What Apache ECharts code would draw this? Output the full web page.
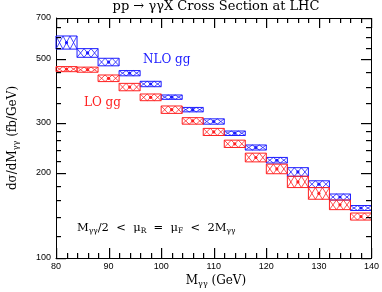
<!DOCTYPE html>
<html><head><meta charset="utf-8">
<script src="https://cdn.jsdelivr.net/npm/echarts@6/dist/echarts.min.js"></script>
<style>html,body{margin:0;padding:0;background:#fff}#c{width:382px;height:292px}</style>
</head><body><div id="c"></div>
<script>
// Bin lower edges (GeV), bin width 4 GeV
const binStart = [80,84,88,92,96,100,104,108,112,116,120,124,128,132,136];
const binWidth = 4;
// NLO gg band (fb/GeV)
const nloHigh = [605,546,505,457,419,375,339,309,280,250,226,208,187,168,153];
const nloLow  = [544,509,475,438,401,362,327,296,270,240,216,194,177,160,147];
// LO gg band (fb/GeV)
const loHigh  = [472,470,441,412,378,343,312,286,260,234,214,194,177,160,144];
const loLow   = [453,451,418,388,358,323,296,270,245,218,198,177,161,148,136];
// axis ticks
const xTickLabels = [80,90,100,110,120,130,140];
const xMinorTicks = [82,84,86,88,92,94,96,98,102,104,106,108,112,114,116,118,122,124,126,128,132,134,136,138];
const yTickLabels = [100,200,300,500,700];
const yMinorTicks = [120,140,160,180,220,240,260,280,350,400,450,550,600,650];

const BLUE = '#1a1aff', RED = '#ff2020';
function bandData(lo, hi){ return binStart.map((s,i)=>[s, s+binWidth, lo[i], hi[i]]); }
function makeRender(color){
  return function(params, api){
    const x0=api.value(0), x1=api.value(1), lo=api.value(2), hi=api.value(3);
    const p0=api.coord([x0,hi]), p1=api.coord([x1,lo]);
    const x=p0[0], y=p0[1], w=p1[0]-p0[0], h=p1[1]-p0[1];
    const n=Math.max(1,Math.round(w/7)), cw=w/n;
    const ch=[{type:'rect',shape:{x:x,y:y,width:w,height:h},style:{fill:'none',stroke:color,lineWidth:1}}];
    for(let i=0;i<n;i++){
      const a=x+i*cw;
      ch.push({type:'line',shape:{x1:a,y1:y,x2:a+cw,y2:y+h},style:{stroke:color,lineWidth:0.8}});
      ch.push({type:'line',shape:{x1:a,y1:y+h,x2:a+cw,y2:y},style:{stroke:color,lineWidth:0.8}});
    }
    const cm=api.coord([(x0+x1)/2, Math.sqrt(lo*hi)]);
    ch.push({type:'circle',shape:{cx:cm[0],cy:cm[1],r:1.6},style:{fill:color}});
    return {type:'group',children:ch};
  };
}
const chart=echarts.init(document.getElementById('c'),null,{renderer:'canvas'});
const serif='DejaVu Serif';
const texts=[
  {type:'text',x:216,y:0,style:{text:'pp → γγX Cross Section at LHC',font:'13px "DejaVu Serif"',fill:'#000',textAlign:'center'}},
  {type:'text',x:216,y:274,style:{text:'{b|M}{s|γγ}{b| (GeV)}',textAlign:'center',rich:{b:{fontFamily:serif,fontSize:12,fill:'#000'},s:{fontFamily:serif,fontSize:8,fill:'#000',padding:[6,0,0,0]}}}},
  {type:'text',x:13,y:138,rotation:Math.PI/2,style:{text:'{b|dσ/dM}{s|γγ}{b| (fb/GeV)}',textAlign:'center',textVerticalAlign:'middle',rich:{b:{fontFamily:serif,fontSize:12,fill:'#000'},s:{fontFamily:serif,fontSize:8,fill:'#000',padding:[6,0,0,0]}}}},
  {type:'text',x:143,y:54,style:{text:'NLO gg',font:'12px "DejaVu Serif"',fill:BLUE}},
  {type:'text',x:84,y:97,style:{text:'LO gg',font:'12px "DejaVu Serif"',fill:RED}},
  {type:'text',x:77,y:222,style:{text:'{b|M}{s|γγ}{b|/2  <  μ}{s|R}{b|  =  μ}{s|F}{b|  <  2M}{s|γγ}',rich:{b:{fontFamily:serif,fontSize:11.5,fill:'#000'},s:{fontFamily:serif,fontSize:7.5,fill:'#000',padding:[5,0,0,0]}}}}
];
chart.setOption({
  animation:false,
  grid:{left:56,right:7,top:18,bottom:34},
  xAxis:{type:'value',min:80,max:140,interval:10,
    axisLine:{show:true,lineStyle:{color:'#000'}},axisTick:{show:false},
    axisLabel:{color:'#000',fontSize:9,fontFamily:'Liberation Sans',margin:4},splitLine:{show:false}},
  yAxis:{type:'log',min:100,max:700,
    axisLine:{show:true,lineStyle:{color:'#000'}},axisTick:{show:false},
    axisLabel:{show:false},splitLine:{show:false}},
  series:[
    {type:'custom',name:'NLO gg',data:bandData(nloLow,nloHigh),renderItem:makeRender(BLUE),clip:false},
    {type:'custom',name:'LO gg',data:bandData(loLow,loHigh),renderItem:makeRender(RED),clip:false}
  ],
  graphic:texts
});
// frame, ticks and y labels, placed through the chart's own scales (ticks drawn as thin filled rects)
const toPx=(x,y)=>chart.convertToPixel({xAxisIndex:0,yAxisIndex:0},[x,y]);
const bl=toPx(80,100), tr=toPx(140,700);
const L=Math.round(bl[0]), B=Math.round(bl[1]), R=Math.round(tr[0]), T=Math.round(tr[1]);
const els=[];
const addRect=(x,y,w,h)=>els.push({type:'rect',z:100,shape:{x:x,y:y,width:w,height:h},style:{fill:'#000'}});
const px=v=>Math.round(toPx(v,100)[0]);
const py=v=>Math.round(toPx(80,v)[1]);
addRect(L,T,R-L+1,1); addRect(R,T,1,B-T+1);
xTickLabels.forEach(v=>{const x=px(v); addRect(x,B-10,1.2,10); addRect(x,T,1.2,10);});
xMinorTicks.forEach(v=>{const x=px(v); addRect(x,B-5,1.2,5); addRect(x,T,1.2,5);});
yTickLabels.forEach(v=>{const y=py(v); addRect(L,y,10,1.2); addRect(R-10,y,10,1.2);
  els.push({type:'text',z:100,x:L-5,y:y,style:{text:String(v),font:'9px "Liberation Sans"',fill:'#000',textAlign:'right',textVerticalAlign:'middle'}});});
yMinorTicks.forEach(v=>{const y=py(v); addRect(L,y,5,1.2); addRect(R-5,y,5,1.2);});
chart.setOption({graphic:texts.concat(els)});
</script></body></html>
